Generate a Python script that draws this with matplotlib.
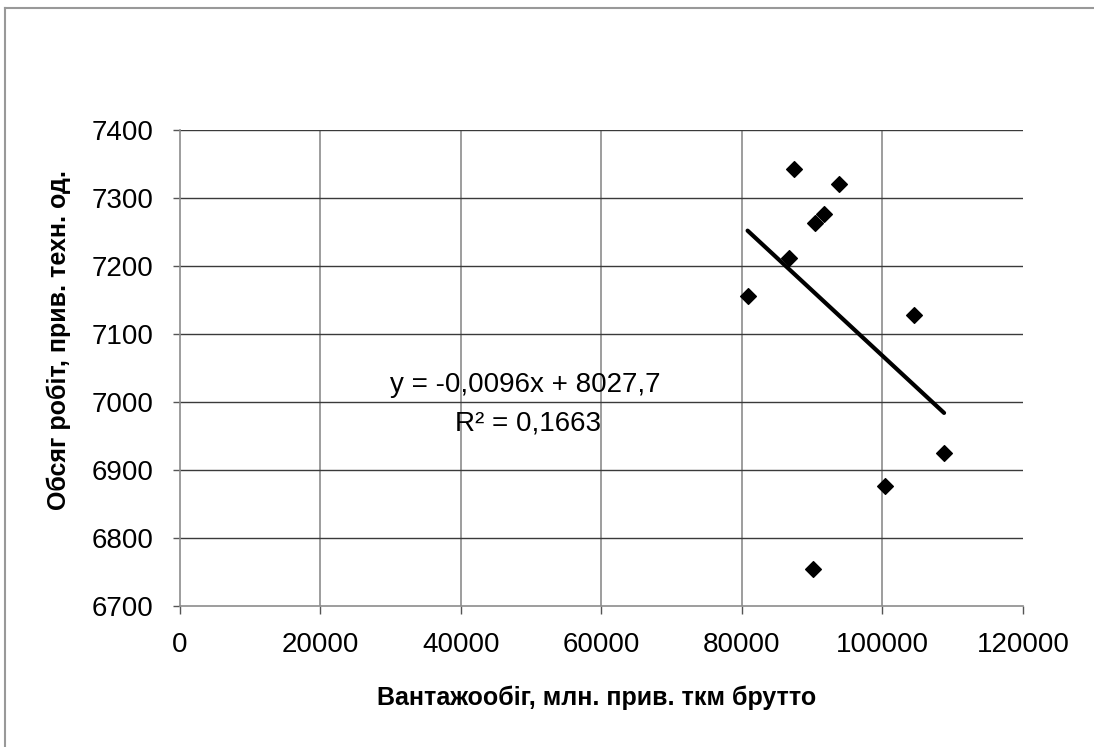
import matplotlib.pyplot as plt
from matplotlib.lines import Line2D
import numpy as np

plt.rcParams['font.family'] = ['Liberation Sans', 'DejaVu Sans']

# Вантажообіг (x) та обсяг робіт (y)
freight = [87450, 93790, 91700, 90380, 86780, 80820, 104430, 108770, 100400, 90140]
work = [7343, 7320, 7276, 7263, 7212, 7155, 7128, 6925, 6876, 6754]

# trendline from the chart
slope = -0.0096
intercept = 8027.7
equation = 'y = -0,0096x + 8027,7'
r2_text = 'R² = 0,1663'

x_ticks = [0, 20000, 40000, 60000, 80000, 100000, 120000]
y_ticks = [6700, 6800, 6900, 7000, 7100, 7200, 7300, 7400]

W, H = 1094, 747
fig = plt.figure(figsize=(W / 100, H / 100), dpi=100)
ax = fig.add_axes([179.5 / W, 1 - 605.5 / H, (1023 - 179.5) / W, (605.5 - 130) / H])

ax.set_xlim(0, 120000)
ax.set_ylim(6700, 7400)
ax.set_xticks(x_ticks)
ax.set_yticks(y_ticks)

# gridlines drawn by hand, like excel
for xv in x_ticks[1:-1]:
    ax.axvline(xv, color='#8c8c8c', lw=1.2, zorder=1)
for yv in y_ticks[1:]:
    ax.axhline(yv, color='#3a3a3a', lw=1.0, zorder=1)

for side in ['top', 'right']:
    ax.spines[side].set_visible(False)
for side in ['left', 'bottom']:
    ax.spines[side].set_color('#8c8c8c')
    ax.spines[side].set_linewidth(1.2)

ax.tick_params(axis='x', direction='out', length=6, width=1, color='#555555',
               labelsize=20, pad=13)
ax.tick_params(axis='y', direction='out', length=5, width=1, color='#555555',
               labelsize=20, pad=13.5)

ax.scatter(freight, work, marker='D', s=8 ** 2, color='black', zorder=3)

xt = np.array([min(freight), max(freight)])
ax.plot(xt, slope * xt + intercept, color='black', lw=3, solid_capstyle='round', zorder=2)

fig.text(525 / W, 1 - 385 / H, equation, fontsize=20, ha='center', va='center')
fig.text(528 / W, 1 - 423 / H, r2_text, fontsize=20, ha='center', va='center')

fig.text(597 / W, 1 - 698 / H, 'Вантажообіг, млн. прив. ткм брутто',
         fontsize=18, fontweight='bold', ha='center', va='center')
fig.text(59 / W, 1 - 340 / H, 'Обсяг робіт, прив. техн. од.',
         fontsize=18, fontweight='bold', ha='center', va='center', rotation=90)

# chart area border
fig.add_artist(Line2D([4.5 / W, 4.5 / W], [1 - 8 / H, 0], color='#999999', lw=1.5))
fig.add_artist(Line2D([4.5 / W, 1], [1 - 8 / H, 1 - 8 / H], color='#999999', lw=1.5))

fig.savefig('out.png', dpi=100)
